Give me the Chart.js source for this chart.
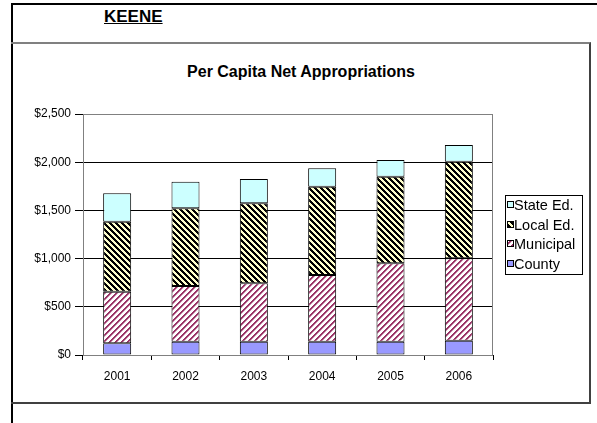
<!DOCTYPE html>
<html>
<head>
<meta charset="utf-8">
<script src="https://cdn.jsdelivr.net/npm/chart.js@4/dist/chart.umd.min.js"></script>
<style>
  html, body { margin: 0; padding: 0; background: #fff; }
  body { width: 597px; height: 423px; position: relative; overflow: hidden; font-family: "Liberation Sans", Arial, sans-serif; }
  .line { position: absolute; background: #000; }
  #box { position: absolute; left: 11px; top: 42px; width: 578px; height: 358px;
         border-top: 2px solid #808080; border-right: 2px solid #404040; border-bottom: 2px solid #404040; }
  #town { position: absolute; left: 104px; top: 8px; font-size: 17px; line-height: 17px; font-weight: bold; text-decoration: underline; }
  #title { position: absolute; left: 301px; top: 64px; transform: translateX(-50%); white-space: nowrap;
           font-size: 16px; line-height: 16px; font-weight: bold; }
  canvas { position: absolute; left: 0; top: 0; }
</style>
</head>
<body>
<div class="line" style="left:11px;top:3px;width:586px;height:2px"></div>
<div class="line" style="left:11px;top:3px;width:2px;height:420px"></div>
<div id="box"></div>
<div id="town">KEENE</div>
<div id="title">Per Capita Net Appropriations</div>
<canvas id="chart" width="597" height="423"></canvas>
<script>
// values (dollars per capita)
const years = ['2001', '2002', '2003', '2004', '2005', '2006'];
const county = [121, 138, 138, 138, 138, 148];
const municipal = [536, 578, 606, 692, 813, 855];
const localEd = [726, 806, 830, 916, 899, 1002];
const stateEd = [294, 276, 252, 191, 173, 173];
const yMax = 2500;
const yStep = 500;

const canvas = document.getElementById('chart');
const ctx = canvas.getContext('2d');

// small diagonal hatch tile, dir 1 = "/", dir -1 = "\"
// soft = colour for one extra pixel column next to the stripe
function hatch(bg, fg, size, width, dir, soft) {
  const c = document.createElement('canvas');
  c.width = c.height = size;
  const g = c.getContext('2d');
  g.fillStyle = bg;
  g.fillRect(0, 0, size, size);
  for (let y = 0; y < size; y++) {
    for (let x = 0; x < size; x++) {
      const k = (dir > 0 ? x + y : x - y + size) % size;
      if (k < width) {
        g.fillStyle = fg;
        g.fillRect(x, y, 1, 1);
      } else if (soft && k === width) {
        g.fillStyle = soft;
        g.fillRect(x, y, 1, 1);
      }
    }
  }
  return ctx.createPattern(c, 'repeat');
}

const localPattern = hatch('#FFFFCC', '#000000', 6, 3, -1);
const muniPattern = hatch('#FFFFFF', '#993366', 6, 2, 1, '#CC99B3');

Chart.defaults.font.family = '"Liberation Sans", Arial, sans-serif';
Chart.defaults.color = '#000';

// plot area border + legend box like the excel one
const frame = {
  id: 'frame',
  beforeDatasetsDraw(chart) {
    const a = chart.chartArea;
    const c = chart.ctx;
    c.save();
    c.strokeStyle = '#808080';
    c.lineWidth = 1;
    c.strokeRect(Math.round(a.left) + 0.5, Math.round(a.top) + 0.5, Math.round(a.right - a.left) - 1, Math.round(a.bottom - a.top));
    c.restore();
  },
  afterDraw(chart) {
    const c = chart.ctx;
    const sets = chart.data.datasets.slice().reverse();
    c.save();
    c.fillStyle = '#fff';
    c.fillRect(505, 195, 77, 79);
    c.strokeStyle = '#000';
    c.lineWidth = 1;
    c.strokeRect(505.5, 195.5, 77, 79);
    c.font = '14.5px "Liberation Sans", Arial, sans-serif';
    c.textBaseline = 'middle';
    sets.forEach((ds, i) => {
      const y = Math.round(205 + i * 19.7);
      c.fillStyle = ds.backgroundColor;
      c.fillRect(507, y - 3, 6, 6);
      c.strokeRect(507.5, y - 3.5, 6, 6);
      c.fillStyle = '#000';
      c.fillText(ds.label, 514, y + 1);
    });
    c.restore();
  }
};

new Chart(canvas, {
  type: 'bar',
  data: {
    labels: years,
    datasets: [
      { label: 'County', data: county, backgroundColor: '#9999FF' },
      { label: 'Municipal', data: municipal, backgroundColor: muniPattern },
      { label: 'Local Ed.', data: localEd, backgroundColor: localPattern },
      { label: 'State Ed.', data: stateEd, backgroundColor: '#CCFFFF' }
    ].map(d => Object.assign(d, {
      borderColor: '#000',
      borderWidth: 1,
      borderSkipped: false,
      categoryPercentage: 1,
      barPercentage: 0.41
    }))
  },
  options: {
    responsive: false,
    animation: false,
    layout: { padding: { left: 23, top: 114, right: 104, bottom: 38 } },
    plugins: {
      legend: { display: false },
      title: { display: false },
      tooltip: { enabled: false }
    },
    scales: {
      x: {
        stacked: true,
        grid: { offset: true, drawOnChartArea: false, tickLength: 5, color: '#000' },
        border: { color: '#000' },
        ticks: { font: { size: 12 }, padding: 9 },
        afterFit(s) { s.height = 30; }
      },
      y: {
        stacked: true,
        min: 0,
        max: yMax,
        grid: {
          color: c => (c.tick && c.tick.value === yMax ? '#808080' : '#000'),
          tickColor: '#000',
          tickLength: 8
        },
        border: { color: '#404040' },
        ticks: {
          stepSize: yStep,
          font: { size: 12 },
          padding: 4,
          callback: v => '$' + v.toLocaleString('en-US')
        },
        afterFit(s) { s.width = 60; }
      }
    }
  },
  plugins: [frame]
});
</script>
</body>
</html>
